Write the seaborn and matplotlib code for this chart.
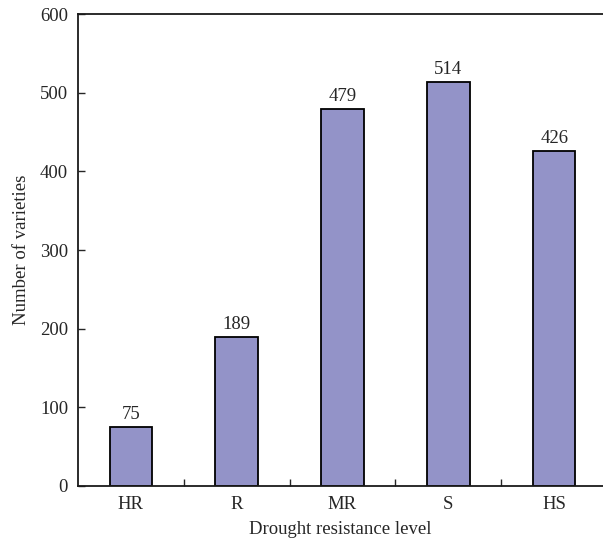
import matplotlib
matplotlib.use("Agg")
import matplotlib.pyplot as plt
import seaborn as sns
import pandas as pd
from matplotlib.ticker import FixedLocator

categories = ["HR", "R", "MR", "S", "HS"]
counts = [75, 189, 479, 514, 426]

sns.set_style("white")
plt.rcParams["font.family"] = ["Liberation Serif", "DejaVu Serif"]

df = pd.DataFrame({"level": categories, "count": counts})

fig = plt.figure(figsize=(6.03, 5.5), dpi=100)
ax = fig.add_axes([0.129, 0.1164, 0.871, 0.8581])

sns.barplot(data=df, x="level", y="count", order=categories, color="#9393C8",
            saturation=1, width=0.4, edgecolor="#000000", linewidth=1.3, ax=ax)

for i, v in enumerate(counts):
    ax.text(i, v + 5, str(v), ha="center", va="bottom", fontsize=13.5)

ax.set_xlim(-0.5, 4.46)
ax.set_ylim(0, 600)
ax.set_yticks([0, 100, 200, 300, 400, 500, 600])
ax.set_xlabel("Drought resistance level", fontsize=13.5, labelpad=6)
ax.set_ylabel("Number of varieties", fontsize=13.5, labelpad=7)

for s in ["left", "bottom", "top"]:
    ax.spines[s].set_visible(True)
    ax.spines[s].set_color("#1a1a1a")
    ax.spines[s].set_linewidth(1.3)
ax.spines["right"].set_visible(False)

ax.tick_params(axis="y", which="major", direction="in", length=5, width=1,
               labelsize=13.5, left=True, pad=7)
ax.tick_params(axis="x", which="major", length=0, labelsize=13.5, pad=7)
ax.xaxis.set_minor_locator(FixedLocator([0.5, 1.5, 2.5, 3.5]))
ax.tick_params(axis="x", which="minor", direction="in", length=5, width=1, bottom=True)

fig.savefig("out.png", dpi=100)
